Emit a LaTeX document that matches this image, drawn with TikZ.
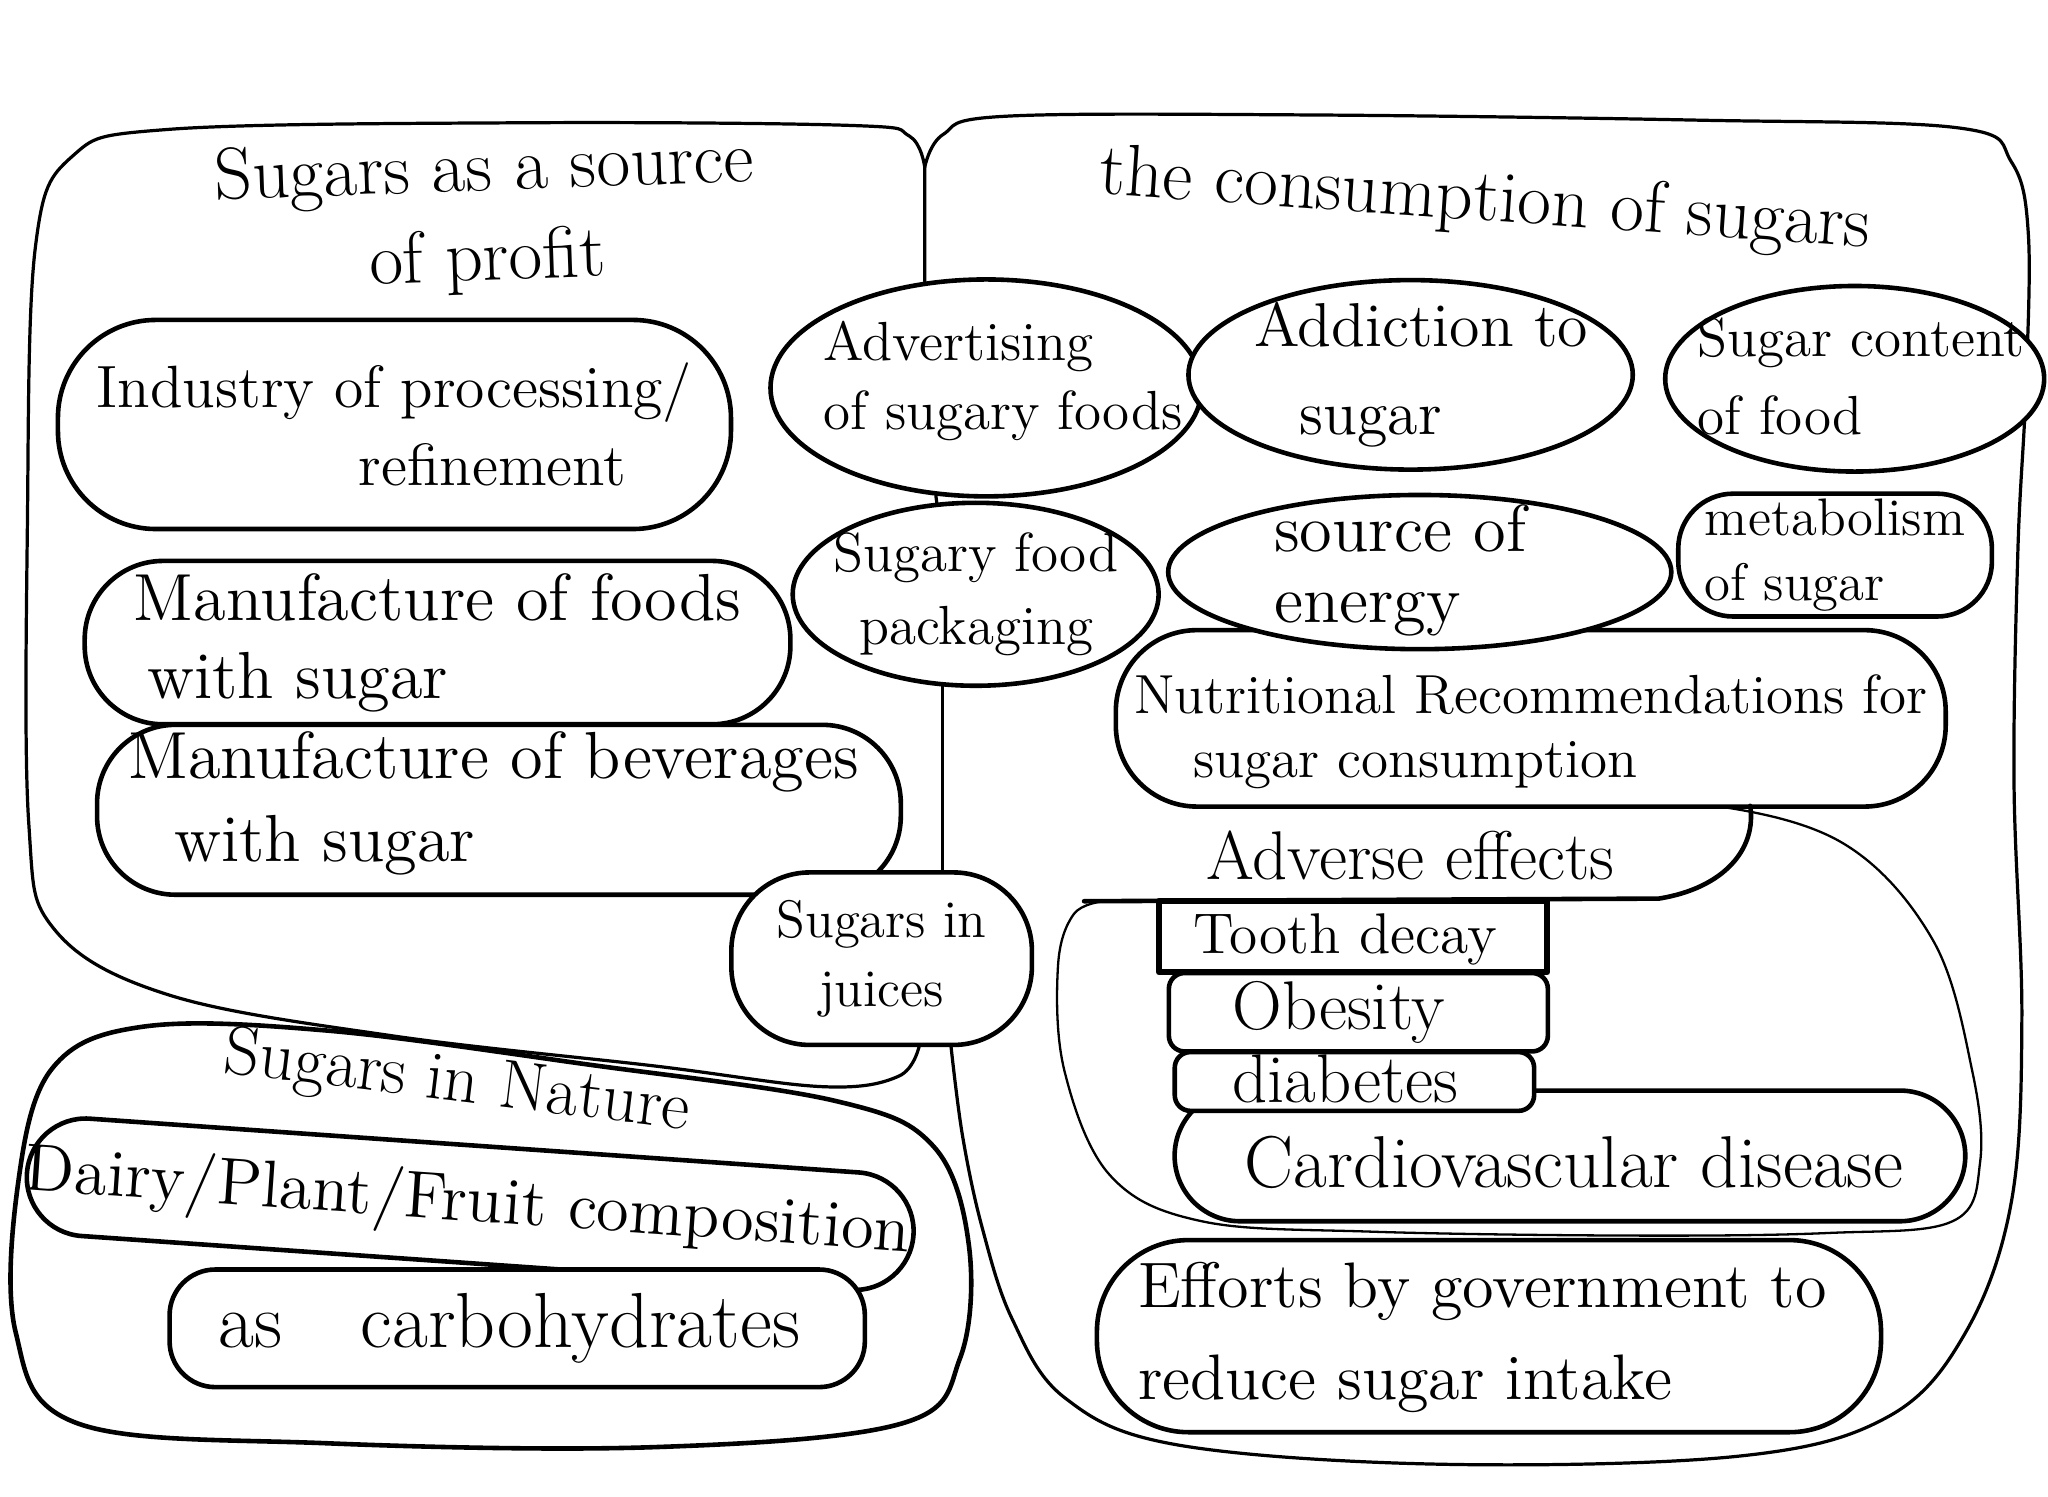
\documentclass[tikz,border=0pt]{standalone}
\usetikzlibrary{shapes.geometric}
\tikzset{
  bubline/.style={draw, line width=1pt, line join=round, line cap=round},
  bub/.style={bubline, fill=white, inner sep=0pt},
  oval/.style={bub, ellipse},
  pill/.style={bub, rectangle},
  region/.style={draw, line width=0.7pt, line join=round, line cap=round},
  thinregion/.style={draw, line width=0.5pt, line join=round, line cap=round},
  txt/.style={align=center, inner sep=0pt},
}
\begin{document}
\begin{tikzpicture}[x=0.01cm,y=-0.01cm]
\useasboundingbox (0,0) rectangle (1568,1146);
\coordinate (top) at (708,128);

% ---------- regions ----------
\draw[region] plot[smooth, tension=0.6] coordinates {(708,128) (696,104) (650,96) (400,94) (130,99) (55,120) (27,190) (21,400) (22,630) (42,712) (130,762) (300,793) (500,816) (630,832) (688,824) (704,800)};
\draw[region] plot[smooth, tension=0.6] coordinates {(708,128) (722,103) (770,89) (1000,88) (1300,92) (1500,98) (1540,124) (1553,180) (1551,300) (1545,420) (1542,600) (1548,780) (1540,920) (1505,1020) (1445,1085) (1330,1115) (1100,1121) (900,1106) (815,1070) (775,1010) (752,940) (737,870) (728,800)};
\draw[bubline] plot[smooth cycle, tension=0.6] coordinates {(14,905) (40,818) (110,786) (250,789) (450,815) (640,843) (715,878) (742,955) (735,1040) (690,1090) (500,1108) (250,1105) (60,1090) (12,1020)};
\draw[thinregion] plot[smooth, tension=0.6] coordinates {(1180,613) (1300,615) (1410,645) (1480,720) (1510,820) (1516,890) (1495,935) (1400,944) (1250,946) (1050,943) (920,935) (850,900) (815,820) (810,740) (822,700) (845,690)};

% ---------- left: sugars as a source of profit ----------
\node[txt, font=\fontsize{16}{19.5}\selectfont, rotate=2] (ttl) at (372,166) {Sugars as a source\\of profit};
\node[pill, rounded corners=0.75cm, minimum width=5.15cm, minimum height=1.6cm] (ind) at (302,325) {};
\node[txt, font=\fontsize{13}{17}\selectfont] (indt) at (ind) {Industry of processing/\\\hspace*{1.5cm}refinement};
\node[pill, rounded corners=0.6cm, minimum width=5.4cm, minimum height=1.25cm] (mfood) at (335,492) {};
\node[txt, align=left, font=\fontsize{14.5}{17}\selectfont] (mfoodt) at (mfood) {Manufacture of foods\\\hspace*{0.1cm}with sugar};
\node[pill, rounded corners=0.6cm, minimum width=6.15cm, minimum height=1.3cm] (mbev) at (382,620) {};
\node[txt, align=left, font=\fontsize{14.5}{18}\selectfont] (mbevt) at (378,615) {Manufacture of beverages\\\hspace*{0.35cm}with sugar};

% ---------- centre column ----------
\node[oval, minimum width=3.3cm, minimum height=1.66cm] (adv) at (755,297) {};
\node[txt, align=left, font=\fontsize{12}{15}\selectfont] (advt) at (768,292) {Advertising\\of sugary foods};
\node[oval, minimum width=2.8cm, minimum height=1.4cm] (pack) at (747,455) {};
\node[txt, align=left, font=\fontsize{12}{16}\selectfont] (packt) at (pack) {Sugary food\\\hspace*{0.2cm}packaging};
\node[pill, rounded corners=0.6cm, minimum width=2.3cm, minimum height=1.32cm] (juice) at (675,734) {};
\node[txt, font=\fontsize{11.5}{15}\selectfont] (juicet) at (juice) {Sugars in\\juices};
\draw[region] (top) -- (adv.120);
\draw[region] (adv.-115) -- (pack.113);
\draw[region] (pack.-110) -- (pack.-110 |- juice.north);

% ---------- right: the consumption of sugars ----------
\node[txt, font=\fontsize{16}{18}\selectfont, rotate=-4] (ttr) at (1137,155) {the consumption of sugars};
\node[oval, minimum width=3.4cm, minimum height=1.45cm] (addict) at (1080,287) {};
\node[txt, align=left, font=\fontsize{13.5}{19}\selectfont] (addictt) at (1088,287) {Addiction to\\\hspace*{0.35cm}sugar};
\node[oval, minimum width=2.9cm, minimum height=1.42cm] (content) at (1420,290) {};
\node[txt, align=left, font=\fontsize{12}{17}\selectfont] (contentt) at (1425,288) {Sugar content\\of food};
\node[pill, rounded corners=0.62cm, minimum width=6.35cm, minimum height=1.35cm] (nutr) at (1172,550) {};
\node[txt, align=left, font=\fontsize{12}{14}\selectfont] (nutrt) at (1172,560) {Nutritional Recommendations for\\\hspace*{0.45cm}sugar consumption};
\node[oval, minimum width=3.85cm, minimum height=1.18cm] (energy) at (1087,438) {};
\node[txt, align=left, font=\fontsize{14.5}{15.5}\selectfont] (energyt) at (1072,437) {source of\\energy};
\node[pill, rounded corners=0.42cm, minimum width=2.4cm, minimum height=0.94cm] (metab) at (1405,425) {};
\node[txt, align=left, font=\fontsize{11.5}{14}\selectfont] (metabt) at (metab) {metabolism\\of sugar};

% adverse effects
\draw[bubline] (830,690) -- (1270,688) .. controls (1320,680) and (1345,650) .. (1340,617);
\node[txt, font=\fontsize{15}{17}\selectfont] (advet) at (1080,655) {Adverse effects};
\node[pill, rounded corners=0.5cm, minimum width=6.05cm, minimum height=1.0cm] (cardio) at (1202,885) {};
\node[pill, rounded corners=0.12cm, minimum width=2.75cm, minimum height=0.45cm] (diab) at (1037,828) {};
\node[pill, rounded corners=0.12cm, minimum width=2.9cm, minimum height=0.6cm] (obes) at (1040,775) {};
\node[pill, line width=1.3pt, minimum width=2.97cm, minimum height=0.55cm] (tooth) at (1036,717) {};
\node[txt, font=\fontsize{12.5}{14}\selectfont] (tootht) at (1030,719) {Tooth decay};
\node[txt, font=\fontsize{15}{17}\selectfont] (obest) at (1025,775) {Obesity};
\node[txt, font=\fontsize{15}{17}\selectfont] (diabt) at (1030,826) {diabetes};
\node[txt, font=\fontsize{16}{18}\selectfont] (cardiot) at (1205,890) {Cardiovascular disease};

\node[pill, rounded corners=0.7cm, minimum width=6.0cm, minimum height=1.47cm] (effort) at (1140,1023) {};
\node[txt, align=left, font=\fontsize{14}{20}\selectfont] (effortt) at (1135,1024) {Efforts by government to\\reduce sugar intake};

% ---------- sugars in nature ----------
\node[pill, rounded corners=0.45cm, minimum width=6.8cm, minimum height=0.9cm, rotate=-4] (dairy) at (360,922) {};
\node[txt, font=\fontsize{14.5}{17}\selectfont, rotate=-4] (dairyt) at (358,922) {Dairy/Plant/Fruit composition};
\node[txt, font=\fontsize{15}{17}\selectfont, rotate=-7] (ntitle) at (350,830) {Sugars in Nature};
\node[pill, rounded corners=0.35cm, minimum width=5.32cm, minimum height=0.9cm] (carb) at (396,1017) {};
\node[txt, font=\fontsize{17}{19}\selectfont] (carbt) at (390,1017) {as\quad carbohydrates};
\end{tikzpicture}
\end{document}
